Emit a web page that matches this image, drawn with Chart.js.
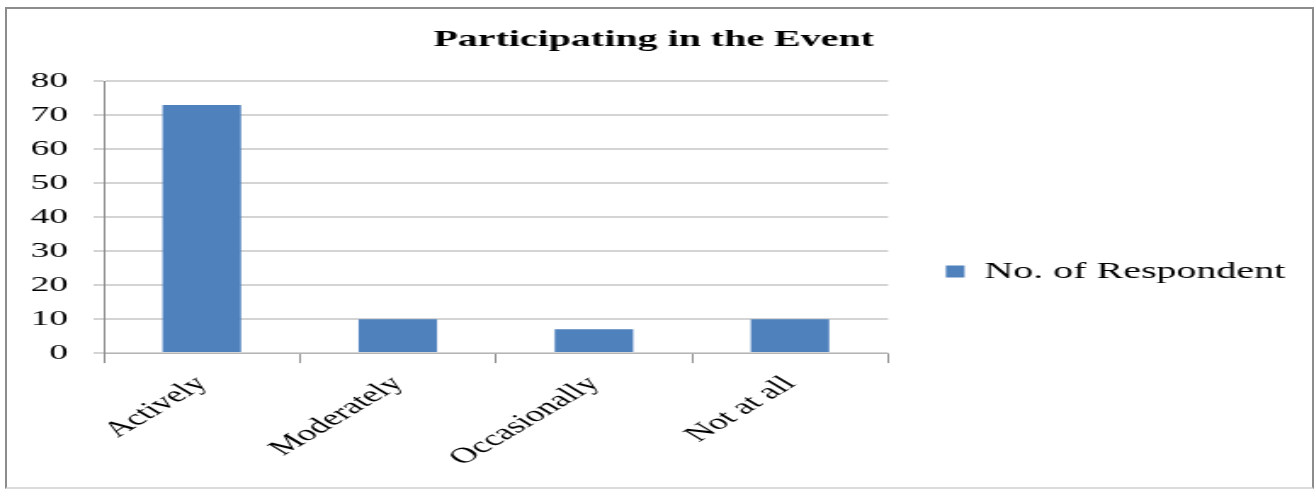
<!DOCTYPE html>
<html lang="en">

<head>
    <meta charset="UTF-8">
    <title>Participating in the Event</title>
    <script src="https://cdn.jsdelivr.net/npm/chart.js"></script>
    <style>
        body {
            margin: 0;
            background: #fff;
            overflow: hidden;
        }

        .moldura {
            position: absolute;
            left: 5px;
            top: 7px;
            width: 1305px;
            height: 478px;
            border: 2px solid #8c8c8c;
            border-bottom-color: #dcdcdc;
        }

        /* the source picture is stretched sideways, so the canvas is too */
        #grafico {
            position: absolute;
            left: 0;
            top: 0;
            transform: scaleX(1.7);
            transform-origin: 0 0;
        }
    </style>
</head>

<body>
    <div class="moldura"></div>
    <canvas id="grafico" width="773" height="490"></canvas>

    <script>
        const categorias = ['Actively', 'Moderately', 'Occasionally', 'Not at all'];
        const respondentes = [73, 10, 7, 10];
        const nomeSerie = 'No. of Respondent';
        const eixoY = { min: 0, max: 80, passo: 10 };

        const fonte = "'Liberation Serif', 'Times New Roman', serif";

        const config = {
            type: 'bar',
            data: {
                labels: categorias,
                datasets: [{
                    label: nomeSerie,
                    data: respondentes,
                    backgroundColor: '#4F81BD',
                    borderWidth: 0,
                    barPercentage: 0.8,
                    categoryPercentage: 0.5
                }]
            },
            options: {
                responsive: false,
                animation: false,
                devicePixelRatio: 1,
                layout: {
                    padding: { left: 3, right: 7, top: 0, bottom: 11 }
                },
                plugins: {
                    title: {
                        display: true,
                        text: 'Participating in the Event',
                        color: '#000',
                        font: { family: fonte, size: 23.5, weight: 'bold' },
                        padding: { top: 26, bottom: 27 }
                    },
                    legend: {
                        position: 'right',
                        maxWidth: 260,
                        // empty title only pushes the item down a bit
                        title: {
                            display: true,
                            text: ' ',
                            font: { size: 10 },
                            padding: { top: 52, bottom: 0 }
                        },
                        labels: {
                            color: '#000',
                            font: { family: fonte, size: 23.5 },
                            boxWidth: 11,
                            boxHeight: 12,
                            padding: 34
                        }
                    },
                    tooltip: { enabled: false }
                },
                scales: {
                    x: {
                        grid: {
                            offset: true,
                            drawOnChartArea: false,
                            drawTicks: true,
                            tickLength: 10,
                            color: '#8c8c8c'
                        },
                        border: { color: '#b4b4b4', width: 1 },
                        ticks: {
                            color: '#000',
                            font: { family: fonte, size: 22 },
                            minRotation: 45,
                            maxRotation: 45,
                            labelOffset: 0,
                            padding: 8
                        }
                    },
                    y: {
                        min: eixoY.min,
                        max: eixoY.max,
                        grid: {
                            color: '#d4d4d4',
                            lineWidth: 2,
                            tickLength: 6
                        },
                        border: { color: '#8c8c8c', width: 1 },
                        ticks: {
                            stepSize: eixoY.passo,
                            color: '#000',
                            font: { family: fonte, size: 22 },
                            padding: 15
                        }
                    }
                }
            }
        };

        new Chart(document.getElementById('grafico'), config);
    </script>
</body>

</html>
